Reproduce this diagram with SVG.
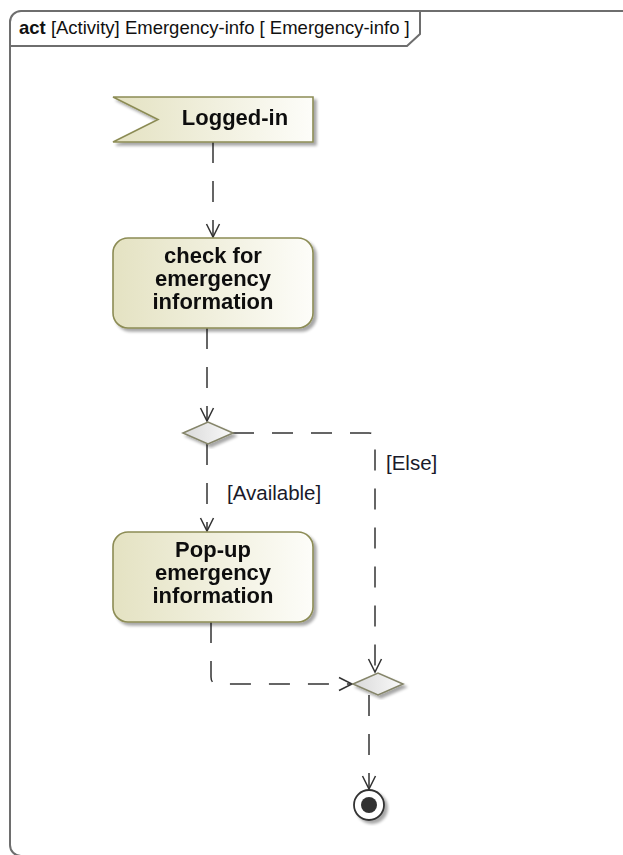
<svg xmlns="http://www.w3.org/2000/svg" width="623" height="855" viewBox="0 0 623 855">
<style>
.frame{fill:none;stroke:#6e6e6e;stroke-width:2}
.node{stroke:#8c8c55;stroke-width:1.6;fill:url(#beige)}
.dec{stroke:#85856a;stroke-width:1.6;fill:url(#grey)}
.nt{font-family:"Liberation Sans",Arial,sans-serif;font-weight:bold;font-size:22px;fill:#111;text-anchor:middle}
.tt{font-family:"Liberation Sans",Arial,sans-serif;font-size:18.5px;fill:#111}
.lb{font-family:"Liberation Sans",Arial,sans-serif;font-size:20.5px;fill:#1a1a2a}
.cn{fill:none;stroke:#333;stroke-width:1.5;stroke-dasharray:21 18}
</style>
<defs>
<linearGradient id="beige" x1="0" y1="0" x2="1" y2="0">
<stop offset="0" stop-color="#e4e2c2"/>
<stop offset="1" stop-color="#fdfdf9"/>
</linearGradient>
<linearGradient id="grey" x1="0" y1="0" x2="1" y2="0">
<stop offset="0" stop-color="#d9d9d9"/>
<stop offset="1" stop-color="#fafafa"/>
</linearGradient>
<filter id="sh" x="-20%" y="-20%" width="140%" height="140%">
<feGaussianBlur in="SourceAlpha" stdDeviation="1.5"/>
<feOffset dx="3" dy="3" result="b"/>
<feComponentTransfer><feFuncA type="linear" slope="0.35"/></feComponentTransfer>
<feMerge><feMergeNode/><feMergeNode in="SourceGraphic"/></feMerge>
</filter>
<marker id="arr" markerWidth="16" markerHeight="16" viewBox="-14 -8 16 16" refX="0" refY="0" orient="auto" markerUnits="userSpaceOnUse">
<path d="M-13,-6.5 L0,0 L-13,6.5" fill="none" stroke="#333" stroke-width="1.5" stroke-dasharray="none"/>
</marker>
</defs>
<g id="frame">
<rect class="frame" x="10" y="11" width="660" height="845" rx="11"/>
<path class="frame" d="M10,46 H407 L420,34 V11"/>
<text class="tt" x="19" y="34"><tspan font-weight="bold">act</tspan> [Activity] Emergency-info [ Emergency-info ]</text>
</g>
<g id="connectors">
<path class="cn" d="M213,142 V237" marker-end="url(#arr)"/>
<path class="cn" d="M207,328 V421" marker-end="url(#arr)"/>
<path class="cn" d="M207,444 V531" marker-end="url(#arr)"/>
<path class="cn" d="M233,433 H369 Q375,433 375,439 V672" marker-end="url(#arr)"/>
<path class="cn" d="M211,622 V677 Q211,684 218,684 H352" marker-end="url(#arr)"/>
<path class="cn" d="M369,695 V789" marker-end="url(#arr)"/>
<text class="lb" x="227" y="500">[Available]</text>
<text class="lb" x="386" y="470">[Else]</text>
</g>
<g id="logged-in" filter="url(#sh)">
<polygon class="node" points="113,97 313,97 313,142 113,142 158,119.5"/>
<text class="nt" x="235" y="125">Logged-in</text>
</g>
<g id="check" filter="url(#sh)">
<rect class="node" x="113" y="238" width="200" height="90" rx="15"/>
<text class="nt" x="213" y="263">check for</text>
<text class="nt" x="213" y="286">emergency</text>
<text class="nt" x="213" y="309">information</text>
</g>
<g id="decision1" filter="url(#sh)">
<polygon class="dec" points="183,433 208,422 233,433 208,444"/>
</g>
<g id="popup" filter="url(#sh)">
<rect class="node" x="113" y="532" width="200" height="90" rx="15"/>
<text class="nt" x="213" y="557">Pop-up</text>
<text class="nt" x="213" y="580">emergency</text>
<text class="nt" x="213" y="603">information</text>
</g>
<g id="merge" filter="url(#sh)">
<polygon class="dec" points="353,684 378,673 403,684 378,695"/>
</g>
<g id="final" filter="url(#sh)">
<circle cx="369" cy="805" r="15" fill="#fff" stroke="#333" stroke-width="1.8"/>
<circle cx="369" cy="805" r="8" fill="#333"/>
</g>
</svg>
